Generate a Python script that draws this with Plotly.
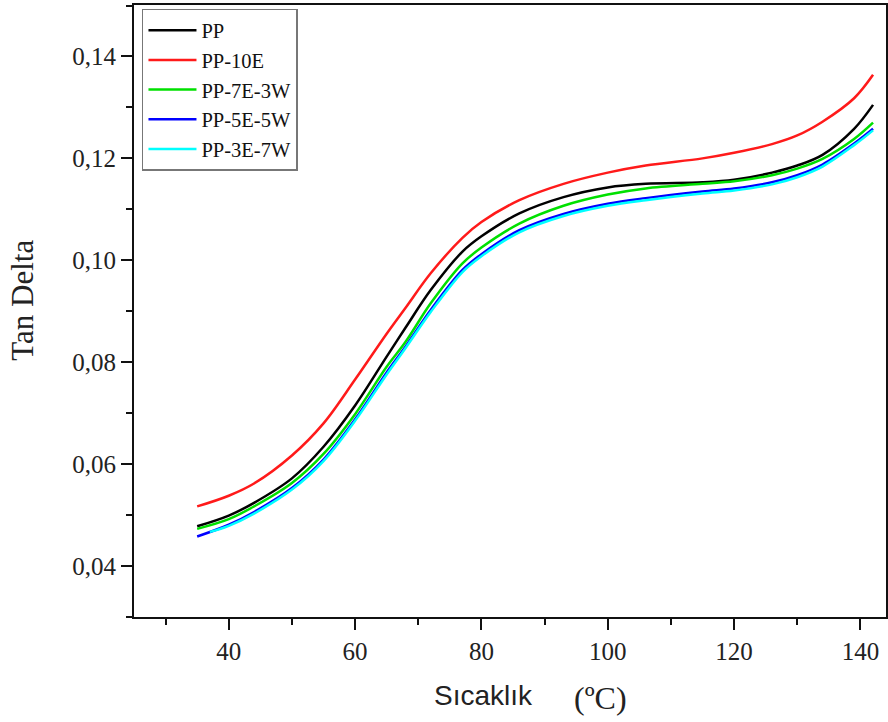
import plotly.graph_objects as go

# ---- data ----
temp = [35, 40, 44, 50, 55, 60, 65, 68, 72, 77, 80, 86, 93, 100, 106, 115, 120, 126, 130, 134, 139, 142]
temp_c = [37, 40, 44, 50, 55, 60, 65, 68, 72, 77, 80, 86, 93, 100, 106, 115, 120, 126, 130, 134, 139, 142]

pp = [0.0478, 0.0499, 0.0524, 0.0572, 0.0634, 0.0715, 0.0811, 0.0868, 0.0942, 0.1017, 0.1047,
      0.1092, 0.1124, 0.1143, 0.1150, 0.1153, 0.1158, 0.1172, 0.1186, 0.1207, 0.1258, 0.1305]
pp_10e = [0.0517, 0.0538, 0.0562, 0.0617, 0.0680, 0.0766, 0.0856, 0.0907, 0.0975, 0.1044, 0.1075,
          0.1118, 0.1150, 0.1172, 0.1186, 0.1200, 0.1211, 0.1228, 0.1245, 0.1272, 0.1318, 0.1364]
pp_7e3w = [0.0473, 0.0492, 0.0517, 0.0563, 0.0620, 0.0698, 0.0791, 0.0840, 0.0916, 0.0994, 0.1025,
           0.1072, 0.1107, 0.1129, 0.1141, 0.1150, 0.1155, 0.1167, 0.1180, 0.1199, 0.1238, 0.1270]
pp_5e5w = [0.0458, 0.0481, 0.0506, 0.0553, 0.0609, 0.0688, 0.0780, 0.0831, 0.0903, 0.0981, 0.1012,
           0.1059, 0.1091, 0.1111, 0.1122, 0.1135, 0.1141, 0.1153, 0.1167, 0.1188, 0.1229, 0.1258]
pp_3e7w = [0.0467, 0.0479, 0.0503, 0.0550, 0.0606, 0.0685, 0.0776, 0.0828, 0.0899, 0.0977, 0.1008,
           0.1055, 0.1087, 0.1107, 0.1118, 0.1131, 0.1137, 0.1149, 0.1163, 0.1184, 0.1226, 0.1255]

names = ["PP", "PP-10E", "PP-7E-3W", "PP-5E-5W", "PP-3E-7W"]
colors = ["#000000", "#ff1a1a", "#00e000", "#0000ff", "#00ffff"]
series = [(temp, pp), (temp, pp_10e), (temp, pp_7e3w), (temp, pp_5e5w), (temp_c, pp_3e7w)]

SERIF = "Liberation Serif, Times New Roman, serif"
SANS = "Liberation Sans, Arial, sans-serif"

fig = go.Figure()
for name, col, (xs, ys) in zip(names, colors, series):
    fig.add_trace(go.Scatter(x=xs, y=ys, mode="lines", name=name,
                             line=dict(color=col, width=2.5, shape="spline", smoothing=1.0)))

axis_common = dict(showgrid=False, zeroline=False, showline=True, linecolor="#111",
                   linewidth=2, mirror=True, ticks="outside", ticklen=11, tickwidth=2,
                   tickcolor="#111", tickfont=dict(family=SERIF, size=25, color="#222"))

fig.update_xaxes(range=[25, 144.05], dtick=20, tick0=0,
                 minor=dict(dtick=10, ticks="outside", ticklen=6, tickwidth=2, tickcolor="#111"),
                 **axis_common)
fig.update_yaxes(range=[0.03, 0.1501], dtick=0.02, tick0=0, tickformat=".2f",
                 minor=dict(dtick=0.01, ticks="outside", ticklen=6, tickwidth=2, tickcolor="#111"),
                 **axis_common)

fig.update_layout(
    width=888, height=722,
    margin=dict(l=134, r=0, t=5, b=105),
    paper_bgcolor="white", plot_bgcolor="white",
    separators=",.",
    showlegend=True,
    legend=dict(x=0.0106, y=0.9935, xanchor="left", yanchor="top",
                bgcolor="white", bordercolor="#777", borderwidth=1.5,
                font=dict(family=SERIF, size=20.5, color="#111"),
                itemwidth=48, tracegroupgap=0),
    annotations=[
        dict(text="Tan Delta", x=-0.1479, y=0.518, xref="paper", yref="paper",
             textangle=-90, showarrow=False, xanchor="center", yanchor="middle",
             font=dict(family=SERIF, size=31, color="#222")),
        dict(text="Sıcaklık", x=0.4642, y=-0.128, xref="paper", yref="paper",
             showarrow=False, xanchor="center", yanchor="middle",
             font=dict(family=SANS, size=28, color="#222")),
        dict(text="(ºC)", x=0.62, y=-0.133, xref="paper", yref="paper",
             showarrow=False, xanchor="center", yanchor="middle",
             font=dict(family=SERIF, size=32, color="#222")),
    ],
)

fig.write_html("out.html")
